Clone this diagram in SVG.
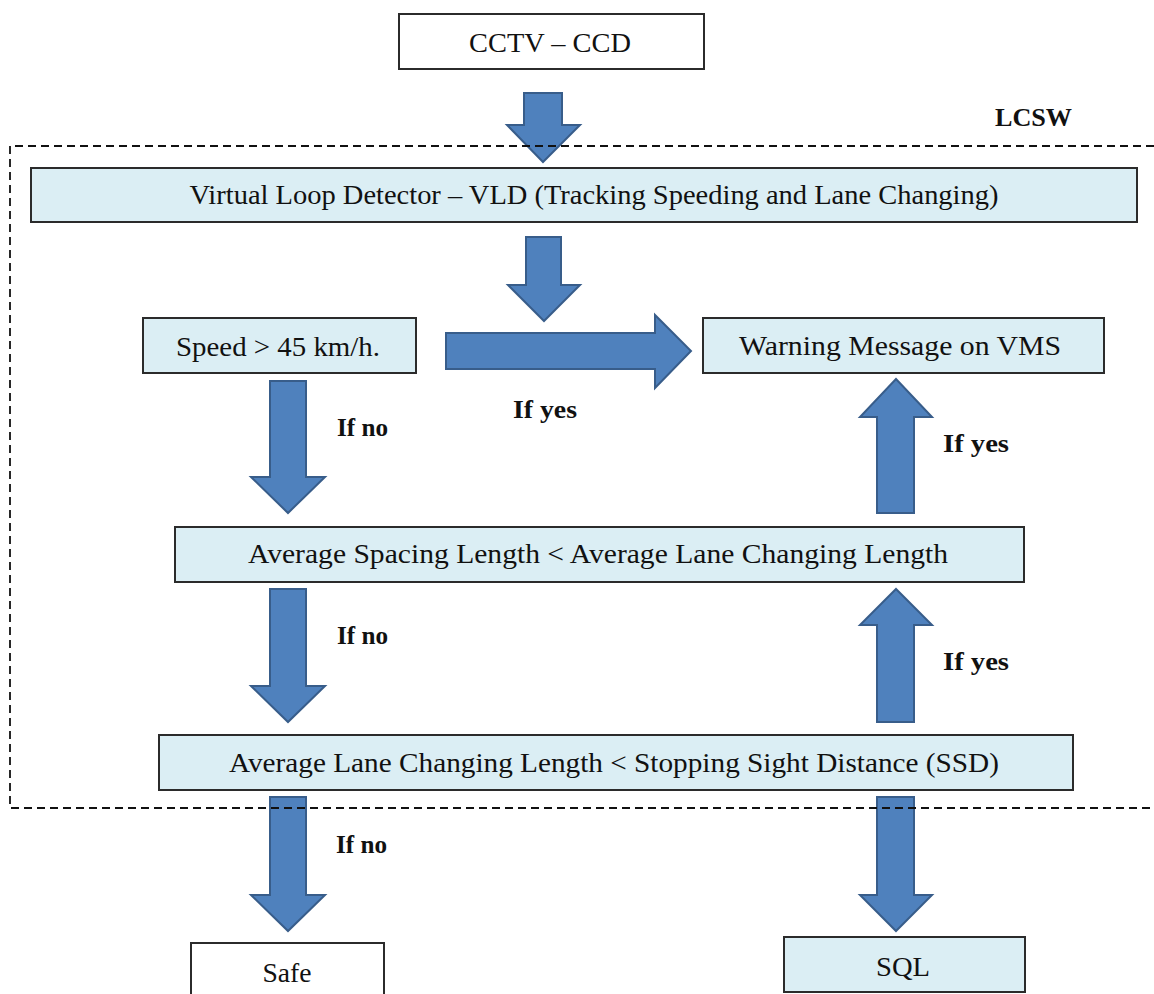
<svg xmlns="http://www.w3.org/2000/svg" width="1154" height="994" viewBox="0 0 1154 994">
<defs>
<style>
.box{stroke:#2b2b2b;stroke-width:2}
.blue{fill:#dbeef4}
.white{fill:#ffffff}
.t{font-family:"Liberation Serif","Times New Roman",serif;font-size:28px;fill:#111;text-anchor:middle}
.lbl{font-family:"Liberation Serif","Times New Roman",serif;font-size:26px;font-weight:bold;fill:#111}
.arr{fill:#4f81bd;stroke:#385d8a;stroke-width:2;stroke-linejoin:miter}
.dash{fill:none;stroke:#111;stroke-width:1.8;stroke-dasharray:8 5}
</style>
</defs>
<rect width="1154" height="994" fill="#ffffff"/>

<g id="connectors">
<polygon class="arr" points="524,93 562,93 562,125 580,125 543,162 507,125 524,125"/>
<polygon class="arr" points="526,237 561,237 561,285 580,285 544,321 508,285 526,285"/>
<polygon class="arr" points="446,333 655,333 655,315 691,351 655,388 655,369 446,369"/>
<polygon class="arr" points="270,381 306,381 306,477 325,477 288,513 251,477 270,477"/>
<polygon class="arr" points="270,589 306,589 306,686 325,686 288,722 251,686 270,686"/>
<polygon class="arr" points="270,797 306,797 306,895 325,895 288,931 251,895 270,895"/>
<polygon class="arr" points="877,513 914,513 914,417 932,417 896,379 860,417 877,417"/>
<polygon class="arr" points="877,722 914,722 914,625 932,625 896,589 860,625 877,625"/>
<polygon class="arr" points="877,797 914,797 914,895 932,895 896,931 860,895 877,895"/>
<text class="lbl" x="337" y="436" textLength="51" lengthAdjust="spacingAndGlyphs">If no</text>
<text class="lbl" x="513" y="418" textLength="64" lengthAdjust="spacingAndGlyphs">If yes</text>
<text class="lbl" x="943" y="452" textLength="66" lengthAdjust="spacingAndGlyphs">If yes</text>
<text class="lbl" x="337" y="644" textLength="51" lengthAdjust="spacingAndGlyphs">If no</text>
<text class="lbl" x="943" y="670" textLength="66" lengthAdjust="spacingAndGlyphs">If yes</text>
<text class="lbl" x="336" y="853" textLength="51" lengthAdjust="spacingAndGlyphs">If no</text>
</g>

<g id="lcsw">
<path class="dash" d="M1154,146 H10 V808 H1154"/>
<text class="lbl" x="995" y="126" font-size="25" textLength="77" lengthAdjust="spacingAndGlyphs">LCSW</text>
</g>

<g id="cctv">
<rect class="box white" x="399" y="14" width="305" height="55"/>
<text class="t" x="550" y="52" textLength="162" lengthAdjust="spacingAndGlyphs">CCTV – CCD</text>
</g>

<g id="vld">
<rect class="box blue" x="31" y="168" width="1106" height="54"/>
<text class="t" x="594" y="204" textLength="809" lengthAdjust="spacingAndGlyphs">Virtual Loop Detector – VLD (Tracking Speeding and Lane Changing)</text>
</g>

<g id="speed">
<rect class="box blue" x="143" y="318" width="273" height="55"/>
<text class="t" x="278" y="356" textLength="204" lengthAdjust="spacingAndGlyphs">Speed &gt; 45 km/h.</text>
</g>

<g id="warning">
<rect class="box blue" x="703" y="318" width="401" height="55"/>
<text class="t" x="900" y="355" textLength="322" lengthAdjust="spacingAndGlyphs">Warning Message on VMS</text>
</g>

<g id="spacing">
<rect class="box blue" x="175" y="527" width="849" height="55"/>
<text class="t" x="598" y="563" textLength="700" lengthAdjust="spacingAndGlyphs">Average Spacing Length &lt; Average Lane Changing Length</text>
</g>

<g id="lanechange">
<rect class="box blue" x="159" y="735" width="914" height="55"/>
<text class="t" x="614" y="772" textLength="770" lengthAdjust="spacingAndGlyphs">Average Lane Changing Length &lt; Stopping Sight Distance (SSD)</text>
</g>

<g id="safe">
<rect class="box white" x="191" y="943" width="193" height="60"/>
<text class="t" x="287" y="982" textLength="49" lengthAdjust="spacingAndGlyphs">Safe</text>
</g>

<g id="sql">
<rect class="box blue" x="784" y="937" width="241" height="55"/>
<text class="t" x="903" y="976" textLength="54" lengthAdjust="spacingAndGlyphs">SQL</text>
</g>
</svg>
